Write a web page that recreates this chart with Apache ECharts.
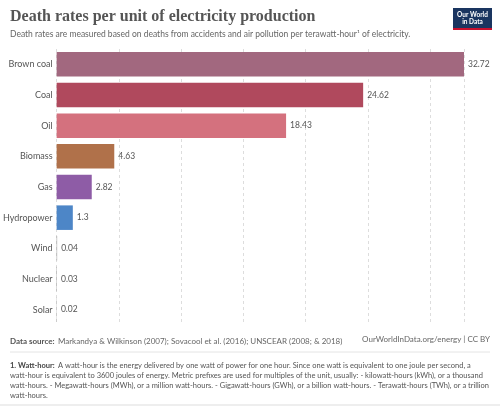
<!DOCTYPE html><html><head><meta charset="utf-8"><script src="https://cdn.jsdelivr.net/npm/echarts@6/dist/echarts.min.js"></script>
<style>html,body{margin:0;padding:0;background:#fff}#c{width:500px;height:407px}</style></head><body><div id="c"></div><script>
const categories=["Brown coal","Coal","Oil","Biomass","Gas","Hydropower","Wind","Nuclear","Solar"];
const values=[32.72,24.62,18.43,4.63,2.82,1.3,0.04,0.03,0.02];
const colors=["#A2687F","#B0495D","#D4717E","#B0714A","#8E5CA6","#4D86C7","#999","#999","#999"];
const ch=echarts.init(document.getElementById('c'));
const F='Lato';
ch.setOption({animation:false,
grid:{left:56,right:36,top:49,bottom:82},
xAxis:{type:'value',min:0,max:32.72,interval:5,axisLabel:{show:false},axisLine:{show:false},axisTick:{show:false},
 splitLine:{lineStyle:{color:'#ddd',type:[3,3]}}},
yAxis:{type:'category',inverse:true,data:categories,axisLine:{show:false},axisTick:{show:false},
 axisLabel:{color:'#555',fontFamily:F,fontSize:9,margin:4}},
series:[{type:'bar',barCategoryGap:'20%',data:values.map((v,i)=>({value:v,itemStyle:{color:colors[i]}})),
 label:{show:true,position:'right',color:'#555',fontFamily:F,fontSize:8.5,distance:4}}],
graphic:[
{type:'text',left:10,top:9,style:{text:'Death rates per unit of electricity production',font:'bold 16px "Liberation Serif"',fill:'#555'}},
{type:'text',left:10,top:30,style:{text:'Death rates are measured based on deaths from accidents and air pollution per terawatt-hour¹ of electricity.',font:'8.5px Lato',fill:'#666'}},
{type:'group',right:8,top:8,children:[
 {type:'rect',shape:{x:0,y:0,width:39,height:22},style:{fill:'#1a3560'}},
 {type:'rect',shape:{x:0,y:20,width:39,height:2},style:{fill:'#c8102e'}},
 {type:'text',x:19.5,y:3,style:{text:'Our World\nin Data',font:'bold 6.5px Lato',fill:'#fff',align:'center',lineHeight:7}}]},
{type:'text',left:10,top:335,style:{rich:{b:{font:'bold 8px Lato',fill:'#555'},n:{font:'8px Lato',fill:'#666'}},text:'{b|Data source:} {n|Markandya & Wilkinson (2007); Sovacool et al. (2016); UNSCEAR (2008; & 2018)}'}},
{type:'text',right:10,top:335,style:{text:'OurWorldInData.org/energy | CC BY',font:'8px Lato',fill:'#666'}},
{type:'line',shape:{x1:10,y1:352,x2:490,y2:352},style:{stroke:'#e4e4e4'}},
{type:'text',left:10,top:360,style:{rich:{b:{font:'bold 7.5px Lato',fill:'#444'},n:{font:'7.5px Lato',fill:'#555'}},lineHeight:10,
 text:'{b|1. Watt-hour:} {n|A watt-hour is the energy delivered by one watt of power for one hour. Since one watt is equivalent to one joule per second, a}\n{n|watt-hour is equivalent to 3600 joules of energy. Metric prefixes are used for multiples of the unit, usually: - kilowatt-hours (kWh), or a thousand}\n{n|watt-hours. - Megawatt-hours (MWh), or a million watt-hours. - Gigawatt-hours (GWh), or a billion watt-hours. - Terawatt-hours (TWh), or a trillion}\n{n|watt-hours.}'}},
{type:'line',shape:{x1:0,y1:405,x2:500,y2:405},style:{stroke:'#ddd'}}
]});
</script></body></html>
